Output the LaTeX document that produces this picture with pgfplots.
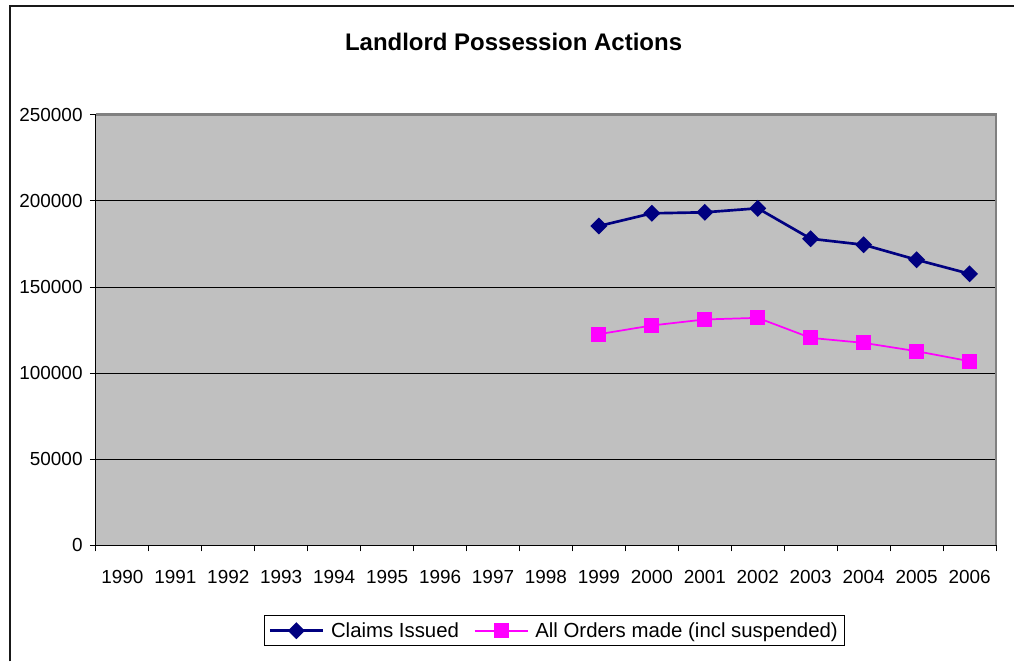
\documentclass[border=0pt]{standalone}
\usepackage{pgfplots}
\pgfplotsset{compat=1.18}
\usepackage{fontspec}
\setmainfont{Liberation Sans}
\definecolor{plotgray}{HTML}{C0C0C0}
\definecolor{bordergray}{HTML}{808080}
\definecolor{navyblue}{HTML}{000080}
\definecolor{mag}{HTML}{FF00FF}
\begin{document}
\begin{tikzpicture}
\begin{axis}[name=ax, scale only axis, width=675.75pt, height=323.25pt,
  xmin=-0.5, xmax=16.5, ymin=0, ymax=250000,
  xtick={0,...,16},
  xticklabels={1990,1991,1992,1993,1994,1995,1996,1997,1998,1999,2000,2001,2002,2003,2004,2005,2006},
  minor xtick={-0.5,0.5,...,16.5},
  major x tick style={draw=none},
  minor x tick style={black, line width=0.75pt},
  y tick style={black, line width=0.75pt},
  tick align=outside, tick pos=left,
  major tick length=4.5pt, minor tick length=4.5pt,
  ytick={0,50000,...,250000},
  scaled y ticks=false,
  /pgf/number format/assume math mode=true,
  y tick label style={/pgf/number format/fixed,/pgf/number format/1000 sep={}},
  tick label style={font=\fontsize{14.2}{17}\selectfont},
  x tick label style={yshift=-10.5pt},
  y tick label style={xshift=-2pt},
  ymajorgrids, grid style={black, line width=0.75pt},
  axis background/.style={fill=plotgray},
  axis line style={draw=none},
  clip=false,
  legend columns=2,
  legend style={at={(0.5094,-0.198)}, anchor=center, draw=black, line width=0.75pt,
    font=\fontsize{15.3}{18}\selectfont, inner xsep=3pt, inner ysep=3pt,
    /tikz/every odd column/.append style={column sep=3pt},
    /tikz/every even column/.append style={column sep=9pt}},
  legend image code/.code={\draw[mark repeat=2,mark phase=2] plot coordinates {(0pt,0pt) (20pt,0pt) (40pt,0pt)};},
]
\addplot[navyblue, line width=2pt, mark=square*, mark size=3.5pt, mark options={rotate=45, solid, fill=navyblue}]
  coordinates {(9,185470) (10,192850) (11,193430) (12,195760) (13,178080) (14,174590) (15,165870) (16,157730)};
\addlegendentry{Claims Issued}
\addplot[mag, line width=1.3pt, mark=square*, mark size=5pt, mark options={solid, fill=mag}]
  coordinates {(9,122670) (10,127730) (11,131220) (12,132150) (13,120520) (14,117620) (15,112790) (16,106980)};
\addlegendentry{All Orders made (incl suspended)}
\draw[bordergray, line width=2.2pt] (rel axis cs:0,1) -- (rel axis cs:1,1) -- (rel axis cs:1,0);
\draw[black, line width=0.75pt] (rel axis cs:1,0) -- (rel axis cs:0,0) -- (rel axis cs:0,1);
\node[font=\bfseries\fontsize{18}{21}\selectfont] at (axis description cs:0.464,1.169) {Landlord Possession Actions};
\end{axis}
\path ([shift={(-72pt,-87pt)}]ax.south west) rectangle ([shift={(689.25pt,409.5pt)}]ax.south west);
\draw[black!90, line width=1.5pt] ([shift={(-64.5pt,-87pt)}]ax.south west) -- ([shift={(-64.5pt,405pt)}]ax.south west) -- ([shift={(689.25pt,405pt)}]ax.south west);
\end{tikzpicture}
\end{document}
